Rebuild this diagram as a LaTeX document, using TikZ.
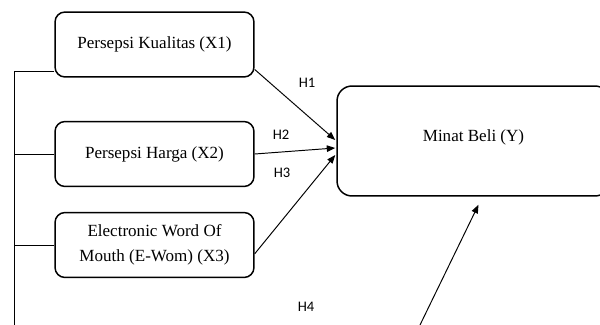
\documentclass[tikz,border=0pt]{standalone}
\usepackage{fontspec}
\setmainfont{Liberation Serif}
\newfontfamily\hypFont{Carlito}
\usepackage{tikz}
\usetikzlibrary{positioning,calc,arrows.meta}
\tikzstyle{model} = [x = .02cm, y = -.02cm]
\tikzstyle{varBox} = [draw, line width=.85pt, rounded corners = .2cm, minimum width = 3.98cm, minimum height = 1.3cm, align=center, font=\fontsize{9.7}{14.5}\selectfont]
\tikzstyle{targetBox} = [varBox, rounded corners = .3cm, minimum width = 5.46cm, minimum height = 2.2cm, text depth = .22cm]
\tikzstyle{pathLine} = [line width=.55pt]
\tikzstyle{pathArrow} = [pathLine, -{Triangle[length=.17cm, width=.13cm]}]
\tikzstyle{hypText} = [font=\hypFont\fontsize{8.3}{9}\selectfont, inner sep=0pt]

\begin{document}
\begin{tikzpicture}[model]
          \useasboundingbox (0,0) rectangle (600,325);
          \clip (0,0) rectangle (600,325);

          % variables
          \node [varBox] (x1) at (154.5,44.5) {Persepsi Kualitas (X1)};
          \node [varBox] (x2) at (154.5,154) {Persepsi Harga (X2)};
          \node [varBox] (x3) at (154.5,245) {Electronic Word Of\\Mouth (E-Wom) (X3)};
          \node [targetBox] (y) at (473.5,141) {Minat Beli (Y)};

          % left bracket
          \coordinate (bus) at (14,325);
          \draw [pathLine] (x1.195) -| (bus);
          \draw [pathLine] (x2.west) -- (x2.west -| bus);
          \draw [pathLine] (x3.west) -- (x3.west -| bus);

          % hypotheses
          \draw [pathArrow] (x1.-14) -- ($(y.west)+(-1,-1)$);
          \draw [pathArrow] (x2.east) -- ($(y.west)+(-1,7)$);
          \draw [pathArrow] (x3.-5) -- ($(y.west)+(-1,14)$);
          \coordinate (h4Start) at (420,325);
          \draw [pathArrow] (h4Start) -- ($(y.south)+(5,8)$);

          \node [hypText] (h1) at (307,83) {H1};
          \node [hypText] (h2) at (281,135) {H2};
          \node [hypText] (h3) at (282,173) {H3};
          \node [hypText] (h4) at (306,307) {H4};
        \end{tikzpicture}
\end{document}
